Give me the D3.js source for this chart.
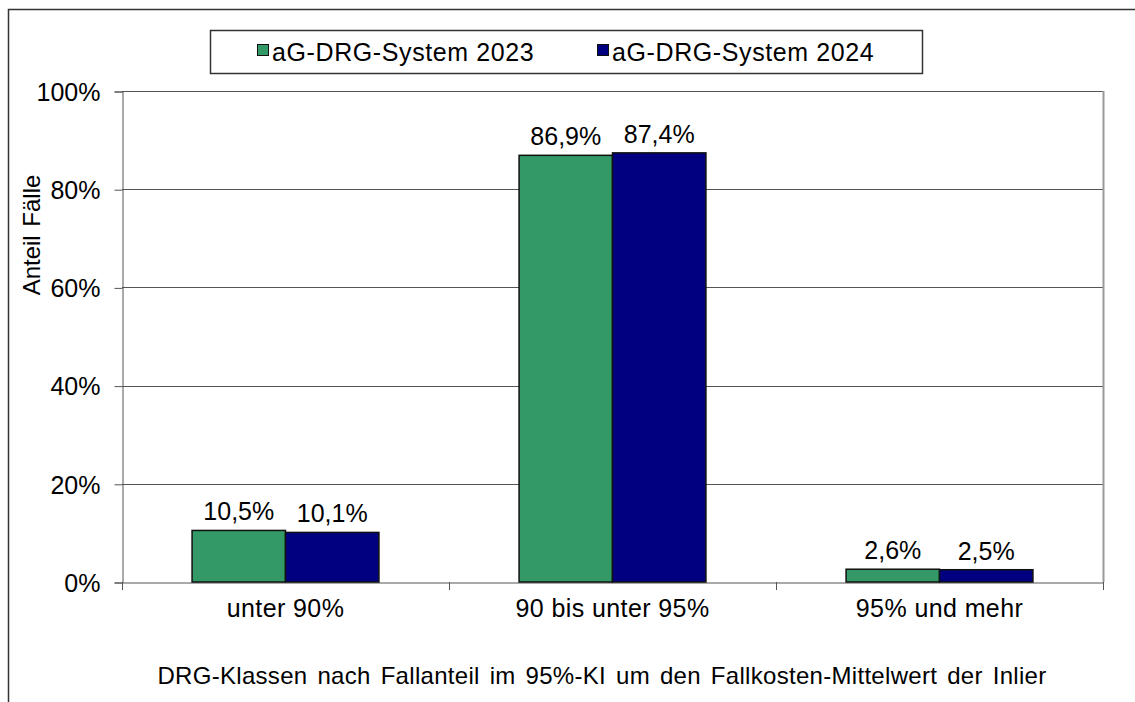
<!DOCTYPE html>
<html>
<head>
<meta charset="utf-8">
<script src="https://cdn.jsdelivr.net/npm/d3@7"></script>
<style>
  body { margin: 0; background: #fff; }
  text { font-family: "Liberation Sans", Arial, sans-serif; fill: #000; }
</style>
</head>
<body>
<div id="area"></div>
<script>
var categories = ["unter 90%", "90 bis unter 95%", "95% und mehr"];
var seriesNames = ["aG-DRG-System 2023", "aG-DRG-System 2024"];
var values2023 = [10.5, 86.9, 2.6];
var values2024 = [10.1, 87.4, 2.5];
var yTicks = [0, 20, 40, 60, 80, 100];
var colors = ["#339966", "#000080"];

var width = 1135, height = 702;
var plotLeft = 122, plotRight = 1103, plotTop = 91, plotBottom = 582;

var svg = d3.select("#area")
  .append("svg")
  .attr("width", width)
  .attr("height", height);

// outer frame
svg.append("rect")
  .attr("x", 8.5).attr("y", 9.5)
  .attr("width", 1200).attr("height", 800)
  .style("fill", "none").style("stroke", "#333").style("stroke-width", 1.5);

var x = d3.scaleBand().domain(categories).range([plotLeft, plotRight]);
var x1 = d3.scaleBand().domain(seriesNames).range([0, x.bandwidth()]).paddingInner(0).paddingOuter(0.75);
var y = d3.scaleLinear().domain([0, 100]).range([plotBottom, plotTop]);

// gridlines
svg.append("g")
  .selectAll("line")
  .data(yTicks.filter(function(d) { return d > 0; }))
  .enter().append("line")
  .attr("x1", plotLeft).attr("x2", plotRight)
  .attr("y1", function(d) { return Math.round(y(d)) + 0.5; })
  .attr("y2", function(d) { return Math.round(y(d)) + 0.5; })
  .style("stroke", "#555").style("stroke-width", 1);

// right border
svg.append("line")
  .attr("x1", plotRight + 0.5).attr("x2", plotRight + 0.5)
  .attr("y1", plotTop).attr("y2", plotBottom)
  .style("stroke", "#999").style("stroke-width", 2);

// y axis
var yAxis = svg.append("g")
  .attr("transform", "translate(" + (plotLeft + 0.5) + ",0.5)")
  .call(d3.axisLeft(y).tickValues(yTicks).tickSize(8).tickPadding(14)
    .tickFormat(function(d) { return d + "%"; }));
yAxis.selectAll("text").style("font-size", "25px").attr("dy", "0.35em");
yAxis.select(".domain").style("stroke", "#555");
yAxis.selectAll(".tick line").style("stroke", "#555");

// x axis
var xAxis = svg.append("g")
  .attr("transform", "translate(0," + (plotBottom + 0.5) + ")")
  .call(d3.axisBottom(x).tickSize(0).tickPadding(17));
xAxis.selectAll("text").style("font-size", "25px").style("letter-spacing", "0.4px");
xAxis.select(".domain").style("stroke", "#555");
// category separator ticks
svg.append("g")
  .selectAll("line")
  .data(d3.range(categories.length + 1))
  .enter().append("line")
  .attr("x1", function(i) { return Math.round(plotLeft + i * x.bandwidth()) + 0.5; })
  .attr("x2", function(i) { return Math.round(plotLeft + i * x.bandwidth()) + 0.5; })
  .attr("y1", plotBottom).attr("y2", plotBottom + 8)
  .style("stroke", "#555");

// bars
var rows = categories.map(function(c, i) {
  return { cat: c, vals: [values2023[i], values2024[i]] };
});

var groups = svg.selectAll(".grp")
  .data(rows)
  .enter().append("g")
  .attr("transform", function(d) { return "translate(" + x(d.cat) + ",0)"; });

groups.selectAll("rect")
  .data(function(d) { return d.vals.map(function(v, j) { return { s: seriesNames[j], v: v, j: j }; }); })
  .enter().append("rect")
  .attr("x", function(d) { return x1(d.s); })
  .attr("y", function(d) { return y(d.v); })
  .attr("width", x1.bandwidth())
  .attr("height", function(d) { return plotBottom - y(d.v); })
  .style("fill", function(d) { return colors[d.j]; })
  .style("stroke", "#111").style("stroke-width", 1.5);

groups.selectAll(".lbl")
  .data(function(d) { return d.vals.map(function(v, j) { return { s: seriesNames[j], v: v }; }); })
  .enter().append("text")
  .attr("x", function(d) { return x1(d.s) + x1.bandwidth() / 2; })
  .attr("y", function(d) { return y(d.v) - 10; })
  .attr("text-anchor", "middle")
  .style("font-size", "25px")
  .text(function(d) { return d.v.toFixed(1).replace(".", ",") + "%"; });

// axis titles
svg.append("text")
  .attr("transform", "translate(40,235) rotate(-90)")
  .attr("text-anchor", "middle")
  .style("font-size", "24px")
  .style("word-spacing", "2px")
  .text("Anteil Fälle");

svg.append("text")
  .attr("x", 602).attr("y", 684)
  .attr("text-anchor", "middle")
  .style("font-size", "24px")
  .style("letter-spacing", "0.3px")
  .style("word-spacing", "3px")
  .text("DRG-Klassen nach Fallanteil im 95%-KI um den Fallkosten-Mittelwert der Inlier");

// legend
var legend = svg.append("g");
legend.append("rect")
  .attr("x", 210.5).attr("y", 30.5).attr("width", 712).attr("height", 43)
  .style("fill", "#fff").style("stroke", "#333").style("stroke-width", 1.5);
var legendX = [257, 597];
seriesNames.forEach(function(s, i) {
  legend.append("rect")
    .attr("x", legendX[i] + 0.5).attr("y", 44.5).attr("width", 11).attr("height", 11)
    .style("fill", colors[i]).style("stroke", "#111");
  legend.append("text")
    .attr("x", legendX[i] + 15).attr("y", 61)
    .style("font-size", "25px")
    .style("letter-spacing", "0.6px")
    .text(s);
});
</script>
</body>
</html>
